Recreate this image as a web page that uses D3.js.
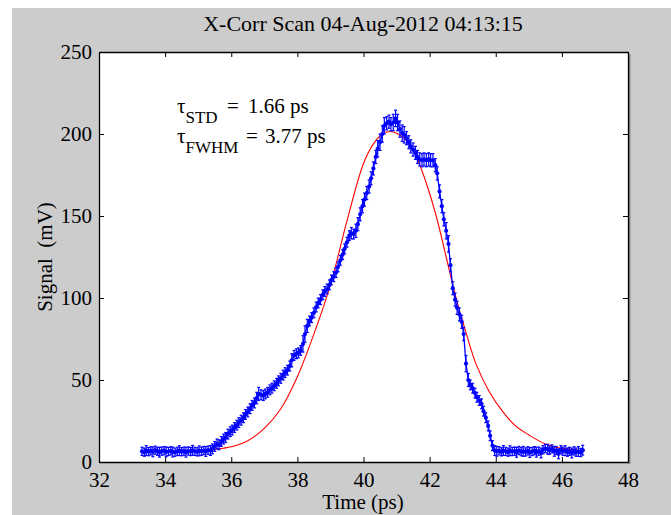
<!DOCTYPE html>
<html><head><meta charset="utf-8">
<script src="https://cdn.jsdelivr.net/npm/d3@7"></script>
<style>
html,body{margin:0;padding:0;background:#fff;}
svg{display:block;}
text{font-family:"Liberation Serif","Times New Roman",serif;fill:#000;}
</style></head>
<body>
<svg id="chart" width="671" height="515"></svg>
<script>
// ---- data ----
const titleText = "X-Corr Scan 04-Aug-2012 04:13:15";
const xTicks = [32, 34, 36, 38, 40, 42, 44, 46, 48];
const yTicks = [0, 50, 100, 150, 200, 250];
// measured scan: [time (ps), signal (mV), error (mV)]
const scanPoints = [
[33.30,6.5,2.5],[33.37,6.0,2.5],[33.43,7.0,3],[33.50,6.3,2.5],[33.57,6.8,2.5],[33.63,6.2,3],
[33.70,7.2,2.5],[33.77,6.5,2.5],[33.83,6.0,3],[33.90,6.6,2.5],[33.97,6.9,2.5],[34.03,6.2,3],
[34.10,6.4,2.5],[34.17,6.8,2.5],[34.23,6.1,3],[34.30,6.0,2.5],[34.37,6.5,2.5],[34.43,6.9,3],
[34.50,6.3,2.5],[34.57,6.6,2.5],[34.63,6.0,3],[34.70,6.7,2.5],[34.77,6.4,2.5],[34.83,7.1,3],
[34.90,6.5,2.5],[34.97,6.2,2.5],[35.03,6.8,3],[35.10,6.6,2.5],[35.17,7.0,2.5],[35.23,6.4,3],
[35.30,7.2,2.5],[35.37,7.0,3],[35.43,8.0,3],[35.50,9.5,3],[35.57,11.0,3],[35.63,10.5,3],
[35.70,12.5,3],[35.77,14.0,3],[35.83,15.0,3],[35.90,17.0,3],[35.97,18.5,3],[36.03,19.5,3],
[36.10,21.0,3],[36.17,22.5,3],[36.23,24.0,3],[36.30,25.5,3],[36.37,27.0,3],[36.43,29.0,3],
[36.50,30.5,3],[36.57,32.5,3],[36.63,34.5,3],[36.70,36.0,3],[36.77,39.0,3.5],[36.83,41.5,4],
[36.90,41.0,3],[36.97,40.5,3],[37.03,41.5,3],[37.10,42.5,3],[37.17,44.0,3],[37.23,45.0,3],
[37.30,46.5,3],[37.37,48.0,3],[37.43,49.5,3],[37.50,51.0,3],[37.57,53.0,3],[37.63,54.5,3],
[37.70,56.0,3],[37.77,58.5,3],[37.83,62.0,4],[37.90,65.0,3],[37.97,66.0,3],[38.03,66.5,3],
[38.10,68.0,3],[38.17,72.0,5],[38.23,78.0,5],[38.30,83.0,4],[38.37,86.0,3],[38.43,88.0,3],
[38.50,91.0,3],[38.57,94.5,3],[38.63,97.0,3],[38.70,99.0,3],[38.77,102.0,3],[38.83,104.0,3],
[38.90,105.5,3],[38.97,108.0,3],[39.03,111.0,3],[39.10,113.0,3],[39.17,115.5,3],[39.23,119.0,3],
[39.30,123.0,3],[39.37,126.5,3],[39.43,130.0,3],[39.50,134.0,3],[39.57,138.0,3],[39.63,139.5,3.5],
[39.70,139.0,3],[39.77,141.0,4],[39.83,145.0,4],[39.90,151.0,4],[39.97,156.0,4],[40.03,160.0,4],
[40.10,164.0,4],[40.17,168.0,4],[40.23,173.0,4],[40.30,179.0,4],[40.37,186.0,4],[40.43,191.0,5],
[40.50,195.0,5],[40.57,200.0,5],[40.63,205.0,5],[40.70,206.5,4],[40.77,207.5,4],[40.83,206.0,4],
[40.90,207.0,5],[40.97,209.5,5],[41.03,207.0,5],[41.10,203.0,5],[41.17,200.5,5],[41.23,199.5,5],
[41.30,197.5,4],[41.37,195.0,4],[41.43,192.5,4],[41.50,190.5,4],[41.57,188.5,4],[41.63,186.0,4],
[41.70,184.5,4],[41.77,184.0,4],[41.83,184.5,4],[41.90,184.0,4],[41.97,184.5,4],[42.03,184.0,4],
[42.10,184.0,4],[42.17,181.0,4],[42.23,176.0,4],[42.30,165.0,4],[42.37,156.0,4],[42.43,148.0,4],
[42.50,141.0,5],[42.57,133.0,5],[42.63,120.0,4],[42.70,106.0,4],[42.77,99.0,4],[42.83,94.0,4],
[42.90,90.0,4],[42.97,85.5,4],[43.03,78.0,4],[43.10,60.0,5],[43.17,50.0,4],[43.23,47.0,3],
[43.30,45.0,3],[43.37,42.0,3],[43.43,39.5,3],[43.50,37.5,3],[43.57,35.5,3],[43.63,31.0,3],
[43.70,27.0,3],[43.77,22.0,3],[43.83,16.0,3],[43.90,10.0,3],[43.97,7.0,3],[44.03,6.5,3],
[44.10,6.8,2.5],[44.17,6.2,2.5],[44.23,7.0,3],[44.30,6.5,2.5],[44.37,6.0,2.5],[44.43,6.9,3],
[44.50,6.4,2.5],[44.57,6.6,2.5],[44.63,5.9,3],[44.70,7.0,2.5],[44.77,6.3,2.5],[44.83,6.5,3],
[44.90,6.1,2.5],[44.97,6.8,2.5],[45.03,5.8,3],[45.10,6.4,2.5],[45.17,6.9,2.5],[45.23,6.0,3],
[45.30,6.6,2.5],[45.37,5.5,3],[45.43,7.5,2.5],[45.50,8.2,2.5],[45.57,7.8,3],[45.63,7.2,2.5],
[45.70,8.0,2.5],[45.77,6.5,3],[45.83,7.0,2.5],[45.90,5.0,3],[45.97,7.5,2.5],[46.03,6.6,2.5],
[46.10,6.9,3],[46.17,6.0,2.5],[46.23,6.5,2.5],[46.30,5.5,3],[46.37,6.8,2.5],[46.43,6.0,2.5],
[46.50,6.4,3],[46.57,5.8,2.5],[46.63,7.2,3]
];
// fitted curve (red): [time (ps), signal (mV)]
const fitCurve = [
[33.3,6.5],[34.0,6.6],[35.0,7.0],[35.5,7.8],[36.0,9.3],[36.5,13.0],[37.0,20.5],[37.5,32.5],
[38.0,52.0],[38.5,78.0],[39.0,108.0],[39.5,147.0],[40.0,182.0],[40.3,194.0],[40.6,200.5],
[40.8,201.5],[41.0,200.5],[41.3,196.0],[41.6,186.0],[41.9,170.0],[42.2,150.0],[42.5,125.0],
[42.8,100.0],[43.1,79.0],[43.4,60.0],[43.8,43.0],[44.2,31.0],[44.6,22.0],[45.0,16.5],
[45.5,11.0],[46.0,8.3],[46.7,6.9]
];
const annStd = "1.66 ps";
const annFwhm = "3.77 ps";

// ---- layout ----
const W = 671, H = 515;
const plot = {left: 99, right: 628, top: 52, bottom: 462};
const svg = d3.select("#chart");

svg.append("rect").attr("x", 12).attr("y", 8).attr("width", W - 12).attr("height", H - 8).attr("fill", "#cccccc");
// slight shade at right of the axes box
svg.append("rect").attr("x", plot.right).attr("y", plot.top + 2).attr("width", 2.5)
  .attr("height", plot.bottom - plot.top).attr("fill", "#8a8a8a");
svg.append("rect").attr("x", plot.left).attr("y", plot.top)
  .attr("width", plot.right - plot.left).attr("height", plot.bottom - plot.top).attr("fill", "#ffffff");

const x = d3.scaleLinear().domain([32, 48]).range([plot.left, plot.right]);
const y = d3.scaleLinear().domain([0, 250]).range([plot.bottom, plot.top]);

svg.append("clipPath").attr("id", "clipP").append("rect")
  .attr("x", plot.left).attr("y", plot.top).attr("width", plot.right - plot.left).attr("height", plot.bottom - plot.top);

const g = svg.append("g").attr("clip-path", "url(#clipP)");

// red fit
g.append("path").datum(fitCurve)
  .attr("d", d3.line().x(d => x(d[0])).y(d => y(d[1])).curve(d3.curveCatmullRom.alpha(0.5)))
  .attr("fill", "none").attr("stroke", "#ff0000").attr("stroke-width", 1.1);

// blue scan line
const blue = "#0000ff";
g.append("path").datum(scanPoints)
  .attr("d", d3.line().x(d => x(d[0])).y(d => y(d[1])))
  .attr("fill", "none").attr("stroke", blue).attr("stroke-width", 1.3);

// error bars
const eb = g.append("g").attr("stroke", blue).attr("stroke-width", 1.2);
eb.selectAll("line.v").data(scanPoints).join("line").attr("class", "v")
  .attr("x1", d => x(d[0])).attr("x2", d => x(d[0]))
  .attr("y1", d => y(d[1] - d[2])).attr("y2", d => y(d[1] + d[2]));
eb.selectAll("line.c1").data(scanPoints).join("line").attr("class", "c1")
  .attr("x1", d => x(d[0]) - 1.5).attr("x2", d => x(d[0]) + 1.5)
  .attr("y1", d => y(d[1] + d[2])).attr("y2", d => y(d[1] + d[2]));
eb.selectAll("line.c2").data(scanPoints).join("line").attr("class", "c2")
  .attr("x1", d => x(d[0]) - 1.5).attr("x2", d => x(d[0]) + 1.5)
  .attr("y1", d => y(d[1] - d[2])).attr("y2", d => y(d[1] - d[2]));
// markers
g.append("g").selectAll("circle").data(scanPoints).join("circle")
  .attr("cx", d => x(d[0])).attr("cy", d => y(d[1])).attr("r", 2.1).attr("fill", blue);

// axes (ticks inward, box)
const tickLen = 5;
const axB = svg.append("g").attr("transform", `translate(0,${plot.bottom})`)
  .call(d3.axisBottom(x).tickValues(xTicks).tickSizeInner(-tickLen).tickSizeOuter(0).tickPadding(10).tickFormat(d3.format("d")));
const axT = svg.append("g").attr("transform", `translate(0,${plot.top})`)
  .call(d3.axisTop(x).tickValues(xTicks).tickSizeInner(-tickLen).tickSizeOuter(0).tickFormat(""));
const axL = svg.append("g").attr("transform", `translate(${plot.left},0)`)
  .call(d3.axisLeft(y).tickValues(yTicks).tickSizeInner(-tickLen).tickSizeOuter(0).tickPadding(7).tickFormat(d3.format("d")));
const axR = svg.append("g").attr("transform", `translate(${plot.right},0)`)
  .call(d3.axisRight(y).tickValues(yTicks).tickSizeInner(-tickLen).tickSizeOuter(0).tickFormat(""));
[axB, axT, axL, axR].forEach(a => {
  a.select(".domain").attr("stroke", "#000").attr("stroke-width", 1.3);
  a.selectAll(".tick line").attr("stroke", "#000").attr("stroke-width", 1);
  a.selectAll(".tick text").attr("font-family", "Liberation Serif").attr("font-size", 21).attr("fill", "#000");
});
axB.selectAll(".tick text").attr("dy", "0.71em");

// title & labels
svg.append("text").attr("x", 363).attr("y", 31).attr("text-anchor", "middle")
  .attr("font-size", 22).text(titleText);
svg.append("text").attr("x", 363).attr("y", 509).attr("text-anchor", "middle")
  .attr("font-size", 21).text("Time (ps)");
svg.append("text").attr("transform", `translate(52,${(plot.top + plot.bottom) / 2}) rotate(-90)`)
  .attr("text-anchor", "middle").attr("font-size", 21).attr("xml:space", "preserve").text("Signal  (mV)");

// annotation
function ann(yb, sub, eqX, valX, val) {
  const t = svg.append("text").attr("y", yb).attr("font-size", 21);
  t.append("tspan").attr("x", 177).text("\u03c4");
  t.append("tspan").attr("font-size", 17).attr("dy", 10).text(sub);
  t.append("tspan").attr("x", eqX).attr("dy", -10).text("=");
  t.append("tspan").attr("x", valX).text(val);
}
ann(113, "STD", 227, 248, annStd);
ann(143, "FWHM", 246, 265, annFwhm);
</script>
</body></html>
